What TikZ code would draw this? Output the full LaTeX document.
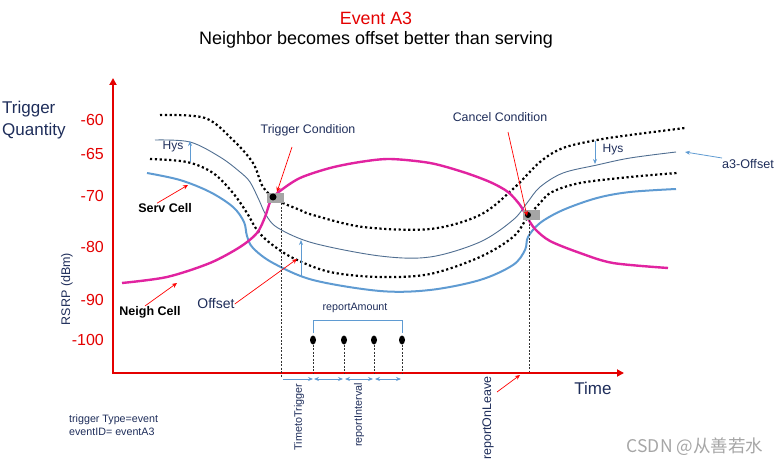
\documentclass[tikz,border=0pt]{standalone}
\usepackage{fontspec}
\setmainfont{Liberation Sans}
\newfontfamily\cjk{Noto Sans CJK SC}
\usepackage{tikz}
\usetikzlibrary{shapes.geometric, arrows.meta, positioning}
\definecolor{axisred}{RGB}{228,0,0}
\definecolor{textnavy}{RGB}{30,45,90}
\definecolor{servblue}{RGB}{95,155,210}
\definecolor{offsetblue}{RGB}{80,110,145}
\definecolor{neighpink}{RGB}{225,35,160}
\definecolor{boxgray}{RGB}{165,165,165}
\tikzstyle{axis} = [draw=axisred, line width=2.4pt, {Triangle[length=7pt,width=7pt]}-{Triangle[length=7pt,width=7pt]}]
\tikzstyle{tick} = [text=axisred, anchor=east, inner sep=0pt, font=\fontsize{16}{16}\selectfont]
\tikzstyle{label} = [text=textnavy, inner sep=0pt, font=\fontsize{12.4}{14}\selectfont]
\tikzstyle{cellname} = [text=black, inner sep=0pt, font=\bfseries\fontsize{12.5}{14}\selectfont]
\tikzstyle{param} = [text=textnavy, inner sep=0pt, rotate=90, font=\fontsize{10.8}{12}\selectfont]
\tikzstyle{pointer} = [draw=red, line width=0.7pt, -{Stealth[length=5pt,width=4.5pt]}]
\tikzstyle{bluearrow} = [draw=servblue, line width=0.8pt, -{Stealth[length=5pt,width=4pt]}]
\tikzstyle{servline} = [draw=servblue, line width=2pt]
\tikzstyle{neighline} = [draw=neighpink, line width=2.4pt]
\tikzstyle{a3line} = [draw=offsetblue, line width=0.9pt]
\tikzstyle{dotline} = [draw=black, line width=2.2pt, dash pattern=on 2.2pt off 2.6pt]
\tikzstyle{guide} = [draw=black!80, line width=0.6pt, dash pattern=on 2pt off 1.5pt]
\tikzstyle{condbox} = [rectangle, fill=boxgray, minimum width=17pt, minimum height=10pt, inner sep=0pt]
\tikzstyle{report} = [ellipse, fill=black, minimum width=6pt, minimum height=9pt, inner sep=0pt]

\begin{document}
\begin{tikzpicture}[x=1pt, y=-1pt]
    \useasboundingbox (0,0) rectangle (779,465);
    % Titles
    \node (title) [text=axisred, font=\fontsize{17.8}{18}\selectfont] at (376,18) {Event A3};
    \node (subtitle) [below of=title, node distance=22pt, font=\fontsize{18}{18}\selectfont] {Neighbor becomes offset better than serving};

    % Axes
    \coordinate (origin) at (113,373);
    \coordinate (ytop) at (113,78);
    \coordinate (xend) at (624,373);
    \draw [axis] (ytop) -- (origin) -- (xend);
    \node (t60) [tick] at (104,120) {-60};
    \node (t65) [tick] at (104,154) {-65};
    \node (t70) [tick] at (104,196) {-70};
    \node (t80) [tick] at (104,247) {-80};
    \node (t90) [tick] at (104,300) {-90};
    \node (t100) [tick] at (104,340) {-100};
    \node (yname) [text=textnavy, anchor=north west, align=left, inner sep=0pt, font=\fontsize{17}{22}\selectfont] at (2,101) {Trigger\\Quantity};
    \node (rsrp) [text=textnavy, rotate=90, inner sep=0pt, font=\fontsize{12.5}{14}\selectfont] at (67,289) {RSRP (dBm)};
    \node (time) [text=textnavy, font=\fontsize{17}{17}\selectfont] at (593,388) {Time};

    % Curves
    \draw [dotline] plot[smooth, tension=0.55] coordinates {(160,115) (205,118) (233,140) (253,163) (263,187) (277,200) (300,210) (313,215) (363,227) (430,229) (480,215) (513,189) (540,162) (563,148) (597,140) (630,135) (685,128)};
    \draw [a3line] plot[smooth, tension=0.55] coordinates {(155,140) (190,142) (220,157) (240,172) (250,182) (259,200) (266,215) (278,228) (313,243) (380,256) (430,257) (480,242) (513,220) (527,203) (540,187) (563,173) (597,165) (630,158) (676,152)};
    \draw [dotline] plot[smooth, tension=0.55] coordinates {(150,159) (187,162) (213,173) (233,193) (247,213) (257,230) (270,243) (293,258) (330,272) (380,277) (430,274) (480,257) (513,237) (527,218) (540,203) (552,192) (580,183) (630,177) (677,173)};
    \draw [servline] plot[smooth, tension=0.55] coordinates {(147,173) (180,180) (210,192) (233,207) (244,222) (247,236) (253,248) (273,263) (313,280) (380,291) (430,290) (480,280) (513,265) (525,250) (528,237) (540,223) (563,210) (597,198) (630,192) (676,189)};
    \draw [neighline] plot[smooth, tension=0.5] coordinates {(122,283) (167,277) (210,263) (240,247) (257,233) (265,217) (271,200) (280,191) (300,178) (330,168) (360,162) (390,159) (430,163) (463,172) (490,182) (508,192) (520,205) (527,217) (535,229) (550,241) (580,253) (613,263) (668,268)};

    % Conditions
    \node (trigbox) [condbox] at (275,198) {};
    \fill (273,197) circle (3.5pt);
    \node (cancelbox) [condbox] at (531,215) {};
    \fill (528,215) circle (3pt);
    \node (trigcond) [label] at (308,130) {Trigger Condition};
    \node (cancelcond) [label] at (500,117) {Cancel Condition};
    \coordinate (trigstart) at (292,147);
    \coordinate (trigtip) at (277,192);
    \coordinate (cancelstart) at (508,132);
    \coordinate (canceltip) at (527,216);
    \draw [pointer] (trigstart) -- (trigtip);
    \draw [pointer] (cancelstart) -- (canceltip);

    % Cell labels
    \node (servcell) [cellname] at (165,208) {Serv Cell};
    \node (neighcell) [cellname] at (150,312) {Neigh Cell};
    \node (offset) [text=textnavy, inner sep=0pt, font=\fontsize{14}{14}\selectfont] at (216,304) {Offset};
    \coordinate (servtip) at (188,185);
    \coordinate (neightip) at (177,283);
    \coordinate (offsettip) at (297,259);
    \draw [pointer] ([xshift=-8pt]servcell.north) -- (servtip);
    \draw [pointer] ([xshift=-5pt]neighcell.north) -- (neightip);
    \draw [pointer] (offset.east) -- (offsettip);

    % Hys, Offset and a3-Offset
    \node (hysleft) [label, font=\fontsize{12}{12}\selectfont] at (173,147) {Hys};
    \node (hysright) [label, font=\fontsize{12}{12}\selectfont] at (613,150) {Hys};
    \node (a3off) [label, font=\fontsize{12.6}{14}\selectfont] at (748,164) {a3-Offset};
    \coordinate (hysl1) at (190,162);
    \coordinate (hysl2) at (190,141);
    \coordinate (hysr1) at (595,141);
    \coordinate (hysr2) at (595,164);
    \coordinate (offs1) at (301,277);
    \coordinate (offs2) at (301,240);
    \coordinate (a3tip) at (685,152);
    \draw [bluearrow] (hysl1) -- (hysl2);
    \draw [bluearrow] (hysr1) -- (hysr2);
    \draw [bluearrow] (offs1) -- (offs2);
    \draw [bluearrow] ([yshift=6pt]a3off.west) -- (a3tip);

    % Guides
    \coordinate (trigfoot) at (281,378);
    \coordinate (cancelfoot) at (529,372);
    \draw [guide] (trigbox.south -| trigfoot) -- (trigfoot);
    \draw [guide] (cancelbox.south -| cancelfoot) -- (cancelfoot);

    % Reports
    \node (r1) [report] at (313,340) {};
    \node (r2) [report] at (344,340) {};
    \node (r3) [report] at (374,340) {};
    \node (r4) [report] at (402,340) {};
    \draw [guide] (r1.south) -- (r1 |- origin);
    \draw [guide] (r2.south) -- (r2 |- origin);
    \draw [guide] (r3.south) -- (r3 |- origin);
    \draw [guide] (r4.south) -- (r4 |- origin);
    \draw [draw=servblue, line width=0.8pt] ([yshift=2pt]r1.north) -- ++(0,-13) -| ([yshift=2pt]r4.north);
    \node (amount) [label, font=\fontsize{10.7}{12}\selectfont] at (355,308) {reportAmount};

    % Time arrows
    \coordinate (a0) at (283,379);
    \coordinate (a1) at (313,379);
    \coordinate (a2) at (344,379);
    \coordinate (a3) at (374,379);
    \coordinate (a4) at (402,379);
    \draw [bluearrow] (a0) -- (a1);
    \draw [bluearrow, {Stealth[length=5pt,width=4pt]}-{Stealth[length=5pt,width=4pt]}] ([xshift=1pt]a1) -- ([xshift=-1pt]a2);
    \draw [bluearrow, {Stealth[length=5pt,width=4pt]}-{Stealth[length=5pt,width=4pt]}] ([xshift=1pt]a2) -- ([xshift=-1pt]a3);
    \draw [bluearrow, {Stealth[length=5pt,width=4pt]}-{Stealth[length=5pt,width=4pt]}] ([xshift=1pt]a3) -- ([xshift=-1pt]a4);
    \node (ttt) [param] at (299,417) {TimetoTrigger};
    \node (interval) [param] at (359,415) {reportInterval};
    \node (onleave) [param, font=\fontsize{12.5}{14}\selectfont] at (488,418) {reportOnLeave};
    \coordinate (leavestart) at (497,392);
    \coordinate (leavetip) at (520,375);
    \draw [pointer] (leavestart) -- (leavetip);

    % Notes
    \node (trigtype) [text=textnavy, anchor=north west, align=left, inner sep=0pt, font=\fontsize{10.7}{12.5}\selectfont] at (69,415) {trigger Type=event\\eventID= eventA3};
    \node (mark) [text=black!35, font=\cjk\fontsize{17.5}{18}\selectfont] at (695,447) {CSDN @从善若水};
\end{tikzpicture}
\end{document}
